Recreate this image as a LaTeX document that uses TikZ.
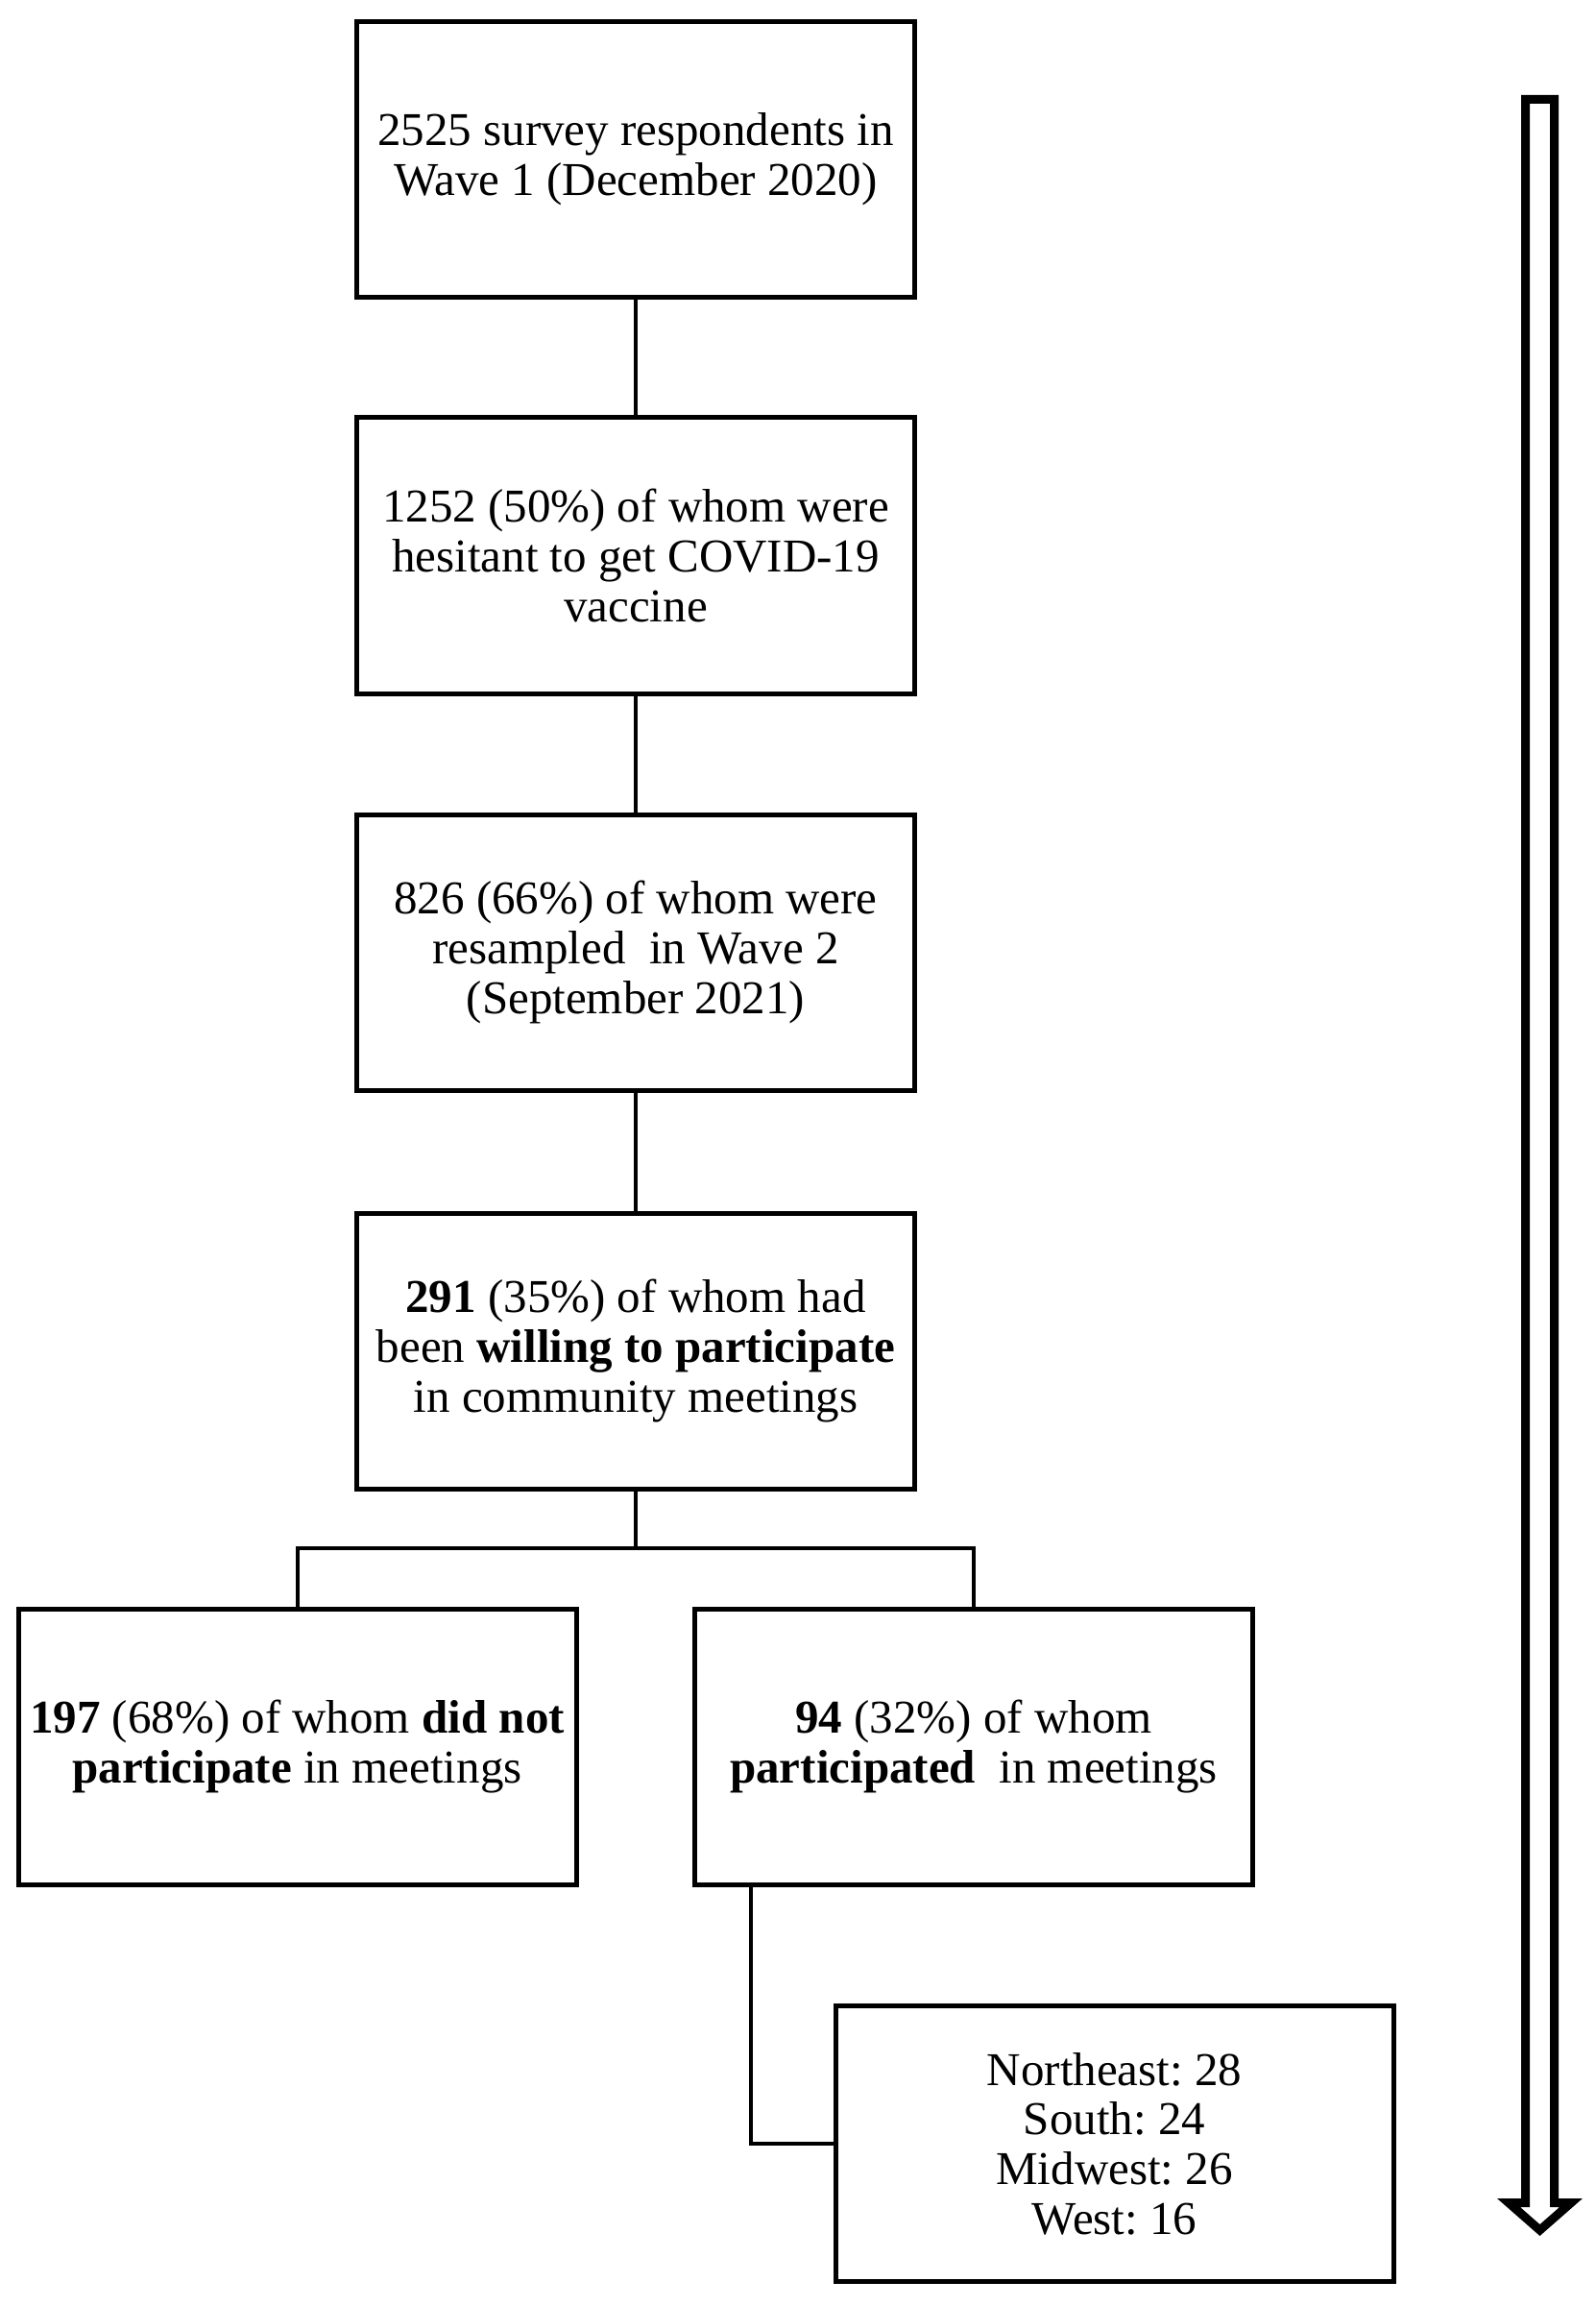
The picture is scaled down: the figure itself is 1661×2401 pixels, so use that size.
\documentclass[tikz,border=0pt]{standalone}
\usepackage{fontspec}
\setmainfont{Liberation Serif}
\begin{document}
\begin{tikzpicture}[x=0.5pt,y=-0.5pt,
  box/.style={draw=black, line width=2.5pt, minimum width=290.5pt, minimum height=143.5pt,
    align=center, inner sep=0pt, font=\fontsize{24.5}{25.8}\selectfont},
  conn/.style={draw=black, line width=2pt},
  bigarrow/.style={draw=black, line width=4.5pt, miter limit=10, fill=white}]
\useasboundingbox (0,0) rectangle (1661,2401);
\node[box] (b1) at (662,166) {2525 survey respondents in\\Wave 1 (December 2020)};
\node[box] (b2) at (662,578.5) {1252 (50\%) of whom were\\hesitant to get COVID-19\\vaccine};
\node[box] (b3) at (662,991.5) {826 (66\%) of whom were\\resampled~ in Wave 2\\(September 2021)};
\node[box] (b4) at (662,1406.5) {\textbf{291} (35\%) of whom had\\been \textbf{willing to participate}\\in community meetings};
\node[box] (b5) at (309.5,1818.5) {\textbf{197} (68\%) of whom \textbf{did not}\\\textbf{participate} in meetings};
\node[box] (b6) at (1014,1818.5) {\textbf{94} (32\%) of whom\\\textbf{participated}~ in meetings};
\node[box] (b7) at (1160.5,2232) {Northeast:~28\\South:~24\\Midwest:~26\\West:~16};
\coordinate (j) at (662,1612);
\draw[conn] (b1.south) -- (b2.north);
\draw[conn] (b2.south) -- (b3.north);
\draw[conn] (b3.south) -- (b4.north);
\draw[conn] (b4.south) -- (j);
\draw[conn] (b5.north) |- (j) -| (b6.north);
\draw[conn] ([xshift=-116pt]b6.south) |- (b7.west);
\draw[bigarrow] (1588.5,103.5) -- (1618.5,103.5) -- (1618.5,2293.5) -- (1636,2293.5)
  -- (1603.5,2322) -- (1571,2293.5) -- (1588.5,2293.5) -- cycle;
\end{tikzpicture}
\end{document}
